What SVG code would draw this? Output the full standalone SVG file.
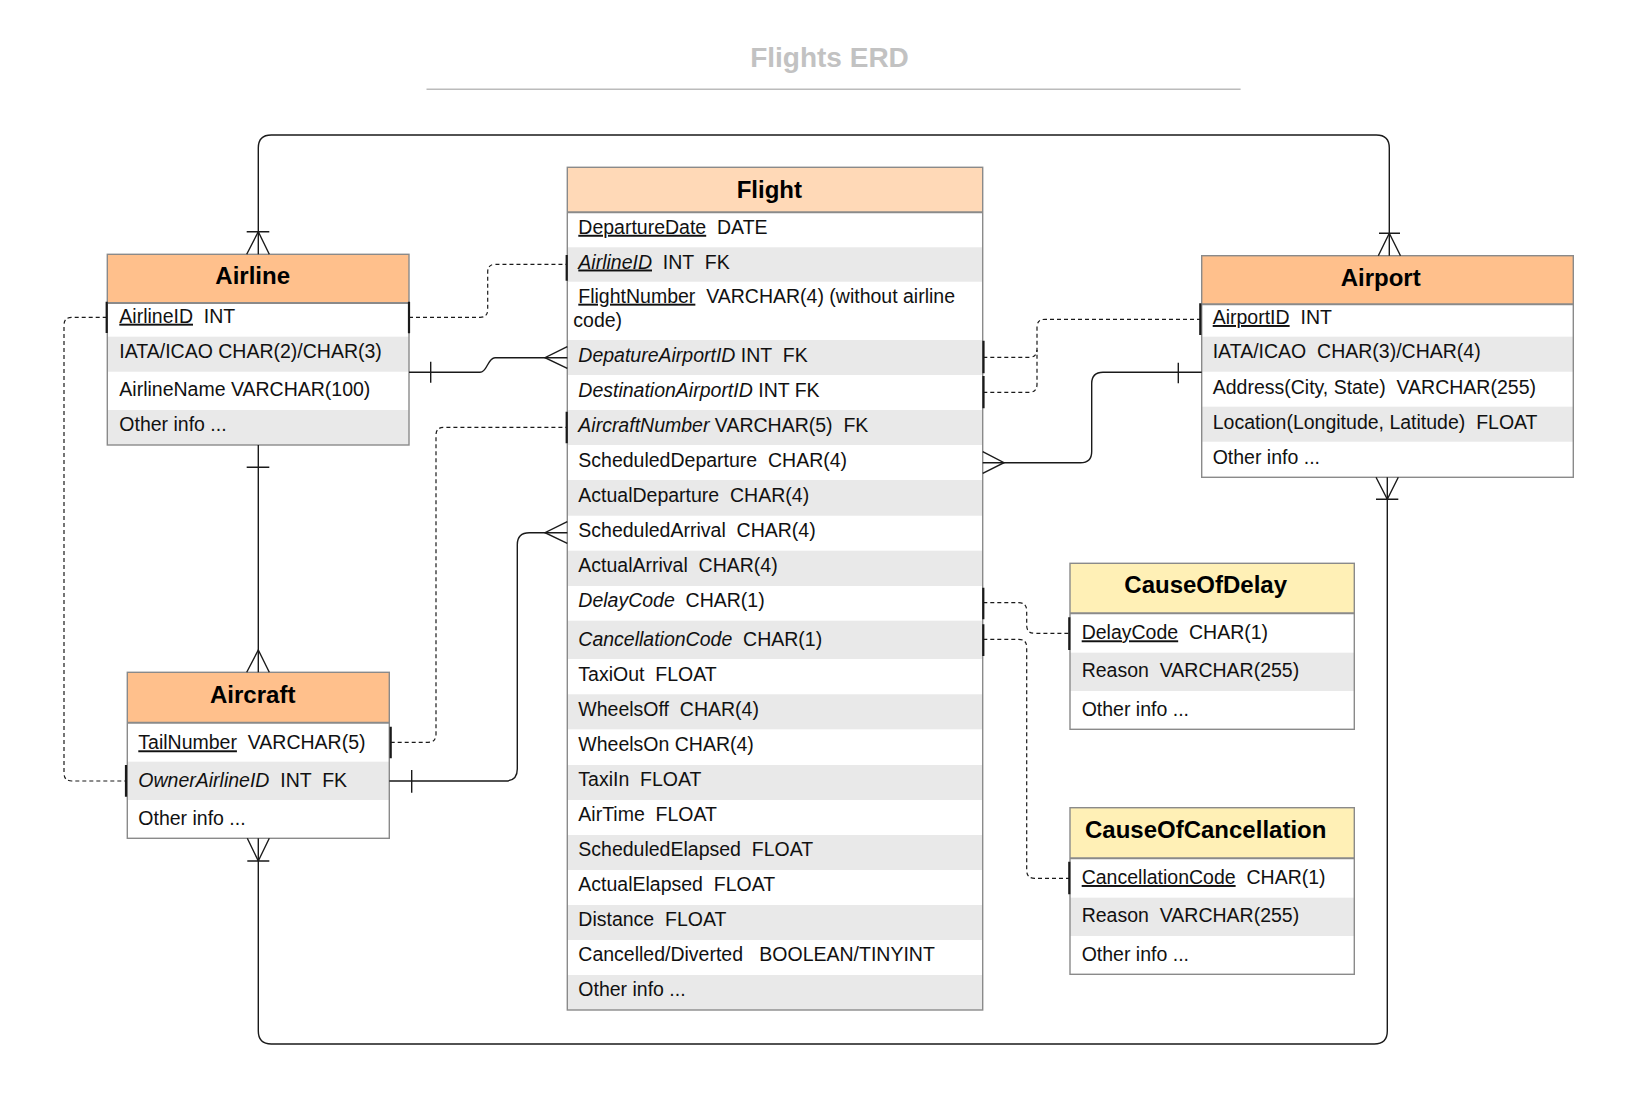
<svg xmlns="http://www.w3.org/2000/svg" width="1643" height="1102" viewBox="0 0 1643 1102">
<defs>
<style>
text{font-family:"Liberation Sans",Arial,Helvetica,sans-serif;white-space:pre;}
.t{font-size:19.5px;fill:#111;}
.h{font-size:24px;font-weight:bold;fill:#000;text-anchor:middle;}
.hd1{fill:#FFC08C;}
.hd2{fill:#FFD9B7;}
.hd3{fill:#FFF0B6;}
.g{fill:#E9E9E9;}
.w{fill:#FFFFFF;}
.box{fill:none;stroke:#8a8a8a;stroke-width:1.4;}
.sep{stroke:#8a8a8a;stroke-width:2;}
.c{fill:none;stroke:#1a1a1a;stroke-width:1.4;}
.d{fill:none;stroke:#1a1a1a;stroke-width:1.2;stroke-dasharray:4 3;}
.bar{fill:none;stroke:#1a1a1a;stroke-width:2.2;}
.u{text-decoration:underline;}
.i{font-style:italic;}
</style>
</defs>
<rect width="1643" height="1102" fill="#ffffff"/>
<g id="title">
<text x="829.5" y="67" style="font-size:28px;font-weight:bold;fill:#c2c2c2;text-anchor:middle;">Flights ERD</text>
<line x1="426.5" y1="89.3" x2="1240.6" y2="89.3" stroke="#bbbbbb" stroke-width="1.5"/>
</g>
<g id="airline">
<rect class="w" x="107.3" y="254.3" width="301.7" height="190.7"/>
<rect class="hd1" x="107.3" y="254.3" width="301.7" height="48.7"/>
<rect class="g" x="107.3" y="336.7" width="301.7" height="35"/>
<rect class="g" x="107.3" y="410" width="301.7" height="35"/>
<line class="sep" x1="107.3" y1="303" x2="409" y2="303"/>
<rect class="box" x="107.3" y="254.3" width="301.7" height="190.7"/>
<text class="h" x="252.7" y="284.3">Airline</text>
<text class="t" x="119.3" y="322.7"><tspan class="u">AirlineID</tspan> &#160;INT</text>
<text class="t" x="119.3" y="358.3">IATA/ICAO CHAR(2)/CHAR(3)</text>
<text class="t" x="119.3" y="396">AirlineName VARCHAR(100)</text>
<text class="t" x="119.3" y="431">Other info ...</text>
</g>
<g id="flight">
<rect class="w" x="567.3" y="167.3" width="415.4" height="842.7"/>
<rect class="hd2" x="567.3" y="167.3" width="415.4" height="45"/>
<rect class="g" x="567.3" y="247.3" width="415.4" height="34.4"/>
<rect class="g" x="567.3" y="340" width="415.4" height="35"/>
<rect class="g" x="567.3" y="410" width="415.4" height="35"/>
<rect class="g" x="567.3" y="480" width="415.4" height="35.7"/>
<rect class="g" x="567.3" y="550.7" width="415.4" height="35.3"/>
<rect class="g" x="567.3" y="620.7" width="415.4" height="38.3"/>
<rect class="g" x="567.3" y="694.3" width="415.4" height="35"/>
<rect class="g" x="567.3" y="765" width="415.4" height="35"/>
<rect class="g" x="567.3" y="835" width="415.4" height="35"/>
<rect class="g" x="567.3" y="905" width="415.4" height="35"/>
<rect class="g" x="567.3" y="975" width="415.4" height="35"/>
<line class="sep" x1="567.3" y1="212.3" x2="982.7" y2="212.3"/>
<rect class="box" x="567.3" y="167.3" width="415.4" height="842.7"/>
<text class="h" x="769.3" y="198.3">Flight</text>
<text class="t" x="578.3" y="233.8"><tspan class="u">DepartureDate</tspan> &#160;DATE</text>
<text class="t" x="578.3" y="268.5"><tspan class="i u">AirlineID</tspan> &#160;INT &#160;FK</text>
<text class="t" x="578.3" y="302.7"><tspan class="u">FlightNumber</tspan> &#160;VARCHAR(4) (without airline</text>
<text class="t" x="573.3" y="326.7">code)</text>
<text class="t" x="578.3" y="361.7"><tspan class="i">DepatureAirportID</tspan> INT &#160;FK</text>
<text class="t" x="578.3" y="396.7"><tspan class="i">DestinationAirportID</tspan> INT FK</text>
<text class="t" x="578.3" y="431.7"><tspan class="i">AircraftNumber</tspan> VARCHAR(5) &#160;FK</text>
<text class="t" x="578.3" y="466.7">ScheduledDeparture &#160;CHAR(4)</text>
<text class="t" x="578.3" y="501.7">ActualDeparture &#160;CHAR(4)</text>
<text class="t" x="578.3" y="537.3">ScheduledArrival &#160;CHAR(4)</text>
<text class="t" x="578.3" y="571.7">ActualArrival &#160;CHAR(4)</text>
<text class="t" x="578.3" y="607.3"><tspan class="i">DelayCode</tspan> &#160;CHAR(1)</text>
<text class="t" x="578.3" y="645.7"><tspan class="i">CancellationCode</tspan> &#160;CHAR(1)</text>
<text class="t" x="578.3" y="680.7">TaxiOut &#160;FLOAT</text>
<text class="t" x="578.3" y="716">WheelsOff &#160;CHAR(4)</text>
<text class="t" x="578.3" y="750.7">WheelsOn CHAR(4)</text>
<text class="t" x="578.3" y="785.7">TaxiIn &#160;FLOAT</text>
<text class="t" x="578.3" y="820.7">AirTime &#160;FLOAT</text>
<text class="t" x="578.3" y="856">ScheduledElapsed &#160;FLOAT</text>
<text class="t" x="578.3" y="890.7">ActualElapsed &#160;FLOAT</text>
<text class="t" x="578.3" y="926">Distance &#160;FLOAT</text>
<text class="t" x="578.3" y="960.7">Cancelled/Diverted &#160;&#160;BOOLEAN/TINYINT</text>
<text class="t" x="578.3" y="996">Other info ...</text>
</g>
<g id="airport">
<rect class="w" x="1201.7" y="255.7" width="371.6" height="221.6"/>
<rect class="hd1" x="1201.7" y="255.7" width="371.6" height="48.6"/>
<rect class="g" x="1201.7" y="336.7" width="371.6" height="35"/>
<rect class="g" x="1201.7" y="406.7" width="371.6" height="35"/>
<line class="sep" x1="1201.7" y1="304.3" x2="1573.3" y2="304.3"/>
<rect class="box" x="1201.7" y="255.7" width="371.6" height="221.6"/>
<text class="h" x="1380.7" y="285.7">Airport</text>
<text class="t" x="1212.7" y="324"><tspan class="u">AirportID</tspan> &#160;INT</text>
<text class="t" x="1212.7" y="358.3">IATA/ICAO &#160;CHAR(3)/CHAR(4)</text>
<text class="t" x="1212.7" y="394">Address(City, State) &#160;VARCHAR(255)</text>
<text class="t" x="1212.7" y="429">Location(Longitude, Latitude) &#160;FLOAT</text>
<text class="t" x="1212.7" y="464">Other info ...</text>
</g>
<g id="aircraft">
<rect class="w" x="127.3" y="672.3" width="262" height="166"/>
<rect class="hd1" x="127.3" y="672.3" width="262" height="50.4"/>
<rect class="g" x="127.3" y="761.7" width="262" height="38.3"/>
<line class="sep" x1="127.3" y1="722.7" x2="389.3" y2="722.7"/>
<rect class="box" x="127.3" y="672.3" width="262" height="166"/>
<text class="h" x="252.7" y="702.7">Aircraft</text>
<text class="t" x="138.3" y="749.3"><tspan class="u">TailNumber</tspan> &#160;VARCHAR(5)</text>
<text class="t" x="138.3" y="786.7"><tspan class="i">OwnerAirlineID</tspan> &#160;INT &#160;FK</text>
<text class="t" x="138.3" y="825">Other info ...</text>
</g>
<g id="causeofdelay">
<rect class="w" x="1070" y="563.3" width="284.3" height="166"/>
<rect class="hd3" x="1070" y="563.3" width="284.3" height="50"/>
<rect class="g" x="1070" y="652.7" width="284.3" height="38.3"/>
<line class="sep" x1="1070" y1="613.3" x2="1354.3" y2="613.3"/>
<rect class="box" x="1070" y="563.3" width="284.3" height="166"/>
<text class="h" x="1205.7" y="593.3">CauseOfDelay</text>
<text class="t" x="1081.7" y="639.3"><tspan class="u">DelayCode</tspan> &#160;CHAR(1)</text>
<text class="t" x="1081.7" y="677.3">Reason &#160;VARCHAR(255)</text>
<text class="t" x="1081.7" y="715.7">Other info ...</text>
</g>
<g id="causeofcancellation">
<rect class="w" x="1070" y="807.7" width="284.3" height="166.6"/>
<rect class="hd3" x="1070" y="807.7" width="284.3" height="50.6"/>
<rect class="g" x="1070" y="897.7" width="284.3" height="38.3"/>
<line class="sep" x1="1070" y1="858.3" x2="1354.3" y2="858.3"/>
<rect class="box" x="1070" y="807.7" width="284.3" height="166.6"/>
<text class="h" x="1205.7" y="837.7">CauseOfCancellation</text>
<text class="t" x="1081.7" y="884"><tspan class="u">CancellationCode</tspan> &#160;CHAR(1)</text>
<text class="t" x="1081.7" y="922.3">Reason &#160;VARCHAR(255)</text>
<text class="t" x="1081.7" y="960.7">Other info ...</text>
</g>
<g id="connectors">
<path class="c" d="M258.3,254.3 V148 Q258.3,135 271.3,135 H1376.3 Q1389.3,135 1389.3,148 V255.7"/>
<path class="c" d="M246.7,231.7 H269.3 M246.7,254.3 L258.3,231.7 L269.3,254.3"/>
<path class="c" d="M1379,233.3 H1400 M1378.3,255.7 L1389.3,233.3 L1400.5,255.7"/>
<path class="c" d="M258.3,838.3 V1031 Q258.3,1044 271.3,1044 H1374.3 Q1387.3,1044 1387.3,1031 V477.3"/>
<path class="c" d="M247.3,861 H269.3 M247.3,838.3 L258.3,861 L269.3,838.3"/>
<path class="c" d="M1376,499.3 H1398.3 M1376,477.3 L1387.3,499.3 L1398.3,477.3"/>
<path class="c" d="M258.3,445 V672.3"/>
<path class="c" d="M246.7,467.3 H269.3 M246.7,672.3 L258.3,650 L269.3,672.3"/>
<path class="c" d="M409,372.3 H480 C487.5,372.3 487.5,357.7 495,357.7 H567.3"/>
<path class="c" d="M430.7,361.7 V382.7 M567.3,346.7 L545,357.7 L567.3,368.3"/>
<path class="c" d="M389.3,781 H505.3 Q517.3,781 517.3,769 V544.7 Q517.3,532.7 529.3,532.7 H567.3"/>
<path class="c" d="M411.7,770 V792.7 M567.3,521.7 L545,532.7 L567.3,543.3"/>
<path class="c" d="M1201.7,372.3 H1103 Q1091.7,372.3 1091.7,383.6 V451.4 Q1091.7,462.7 1080.4,462.7 H982.7"/>
<path class="c" d="M1178.3,362.7 V383.3 M982.7,451.7 L1004,462.7 L982.7,473.3"/>
<path class="d" d="M409,317.3 H480 Q487.7,317.3 487.7,309.6 V272 Q487.7,264.3 495.4,264.3 H566.7"/>
<path class="d" d="M390.7,742.3 H428 Q436,742.3 436,734.3 V435.3 Q436,427.3 444,427.3 H566.7"/>
<path class="d" d="M106.7,317.3 H72 Q64,317.3 64,325.3 V773 Q64,781 72,781 H126"/>
<path class="d" d="M983.3,357.3 H1029 Q1037,357.3 1037,349.3 V327.3 Q1037,319.3 1045,319.3 H1200.3"/>
<path class="d" d="M983.3,392.3 H1029 Q1037,392.3 1037,384.3 V350"/>
<path class="d" d="M983.3,602.7 H1018.7 Q1026.7,602.7 1026.7,610.7 V625.3 Q1026.7,633.3 1034.7,633.3 H1069.3"/>
<path class="d" d="M983.3,639.3 H1018.7 Q1026.7,639.3 1026.7,647.3 V870.3 Q1026.7,878.3 1034.7,878.3 H1069.3"/>
<path class="bar" d="M409,301.7 V333.3 M566.7,255 V280.7 M390.7,726.7 V758.3 M566.7,411.7 V443.3 M106.7,301.7 V333 M126,765 V796.7 M983.5,340.7 V373.3 M983.5,376 V408.3 M1200.3,303.3 V335 M983.3,587.7 V619.3 M983.3,624.3 V656 M1069.3,617.3 V650 M1069.3,861.7 V894.3"/>
</g>
</svg>
